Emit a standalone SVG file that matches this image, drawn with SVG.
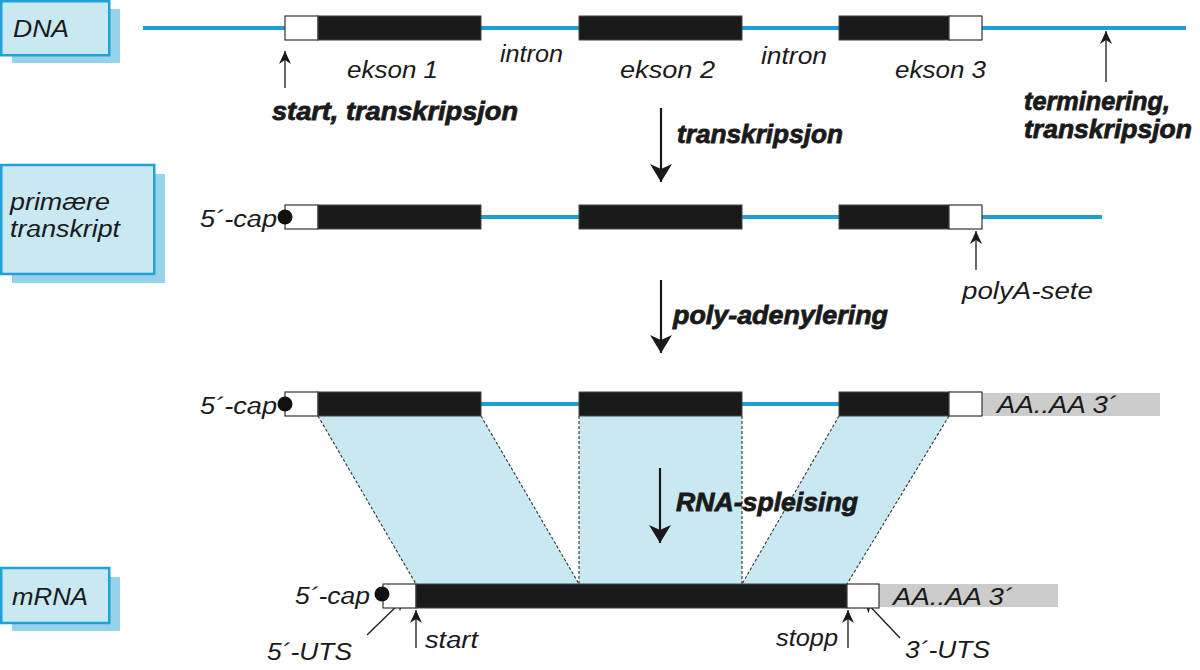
<svg xmlns="http://www.w3.org/2000/svg" width="1200" height="670" viewBox="0 0 1200 670">
<defs>
<style>
.lbl{font-family:"Liberation Sans",Arial,sans-serif;font-style:italic;font-size:23px;fill:#1a1a1a}
.bld{font-family:"Liberation Sans",Arial,sans-serif;font-style:italic;font-weight:bold;font-size:26px;fill:#1a1a1a;stroke:#1a1a1a;stroke-width:0.8}
.box{fill:#c8e8f2;stroke:#1ea2d8;stroke-width:2.5}
.shadow{fill:#96d2ea}
.blue{stroke:#1a9fd6;stroke-width:4;fill:none}
.ex{fill:#1b1a1a;stroke:#444;stroke-width:1}
.utr{fill:#fff;stroke:#333;stroke-width:1.2}
.gray{fill:#cccccc}
.dash{stroke:#333;stroke-width:1.1;stroke-dasharray:3 2;fill:none}
.splice{fill:#c8e8f2}
.thin{stroke:#1a1a1a;stroke-width:1.3;fill:none}
.thick{stroke:#1a1a1a;stroke-width:2.2;fill:none}
</style>
<marker id="ah" markerUnits="userSpaceOnUse" viewBox="0 0 13 12" refX="13" refY="6" markerWidth="13" markerHeight="12" orient="auto">
<path d="M13,6 L0,0 L4,6 L0,12 Z" fill="#1a1a1a"/>
</marker>
<marker id="ahb" markerUnits="userSpaceOnUse" viewBox="0 0 18 22" refX="18" refY="11" markerWidth="18" markerHeight="22" orient="auto">
<path d="M18,11 L0,0 L5,11 L0,22 Z" fill="#1a1a1a"/>
</marker>
</defs>
<rect width="1200" height="670" fill="#fff"/>

<g id="label-dna">
<rect class="shadow" x="12" y="9" width="108" height="54"/>
<rect class="box" x="1.25" y="1.25" width="108" height="54"/>
<text class="lbl" x="13" y="37" font-size="25" textLength="56" lengthAdjust="spacingAndGlyphs">DNA</text>
</g>
<g id="label-primary">
<rect class="shadow" x="12" y="174" width="153" height="109"/>
<rect class="box" x="1.25" y="165" width="153" height="109"/>
<text class="lbl" x="10" y="210" font-size="24" textLength="100" lengthAdjust="spacingAndGlyphs">primære</text>
<text class="lbl" x="10" y="237" font-size="24" textLength="110" lengthAdjust="spacingAndGlyphs">transkript</text>
</g>
<g id="label-mrna">
<rect class="shadow" x="12" y="577" width="108" height="54"/>
<rect class="box" x="1.25" y="568" width="108" height="55"/>
<text class="lbl" x="12" y="605" font-size="25" textLength="76" lengthAdjust="spacingAndGlyphs">mRNA</text>
</g>

<g id="splice-regions">
<polygon class="splice" points="318,416 481,416 579,584 416,584"/>
<polygon class="splice" points="579,416 742,416 742,584 579,584"/>
<polygon class="splice" points="839,416 949,416 847,584 742,584"/>
</g>

<g id="connectors">
<line class="dash" x1="318" y1="416" x2="416" y2="584"/>
<line class="dash" x1="481" y1="416" x2="579" y2="584"/>
<line class="dash" x1="579" y1="416" x2="579" y2="584"/>
<line class="dash" x1="742" y1="416" x2="742" y2="584"/>
<line class="dash" x1="839" y1="416" x2="742" y2="584"/>
<line class="dash" x1="949" y1="416" x2="847" y2="584"/>
<line class="thick" x1="661" y1="108" x2="661" y2="182" marker-end="url(#ahb)"/>
<line class="thick" x1="661" y1="280" x2="661" y2="353" marker-end="url(#ahb)"/>
<line class="thick" x1="660" y1="468" x2="660" y2="543" marker-end="url(#ahb)"/>
<line class="thin" x1="285" y1="88" x2="285" y2="51" marker-end="url(#ah)"/>
<line class="thin" x1="1106" y1="82" x2="1106" y2="31" marker-end="url(#ah)"/>
<line class="thin" x1="976" y1="270" x2="976" y2="231" marker-end="url(#ah)"/>
<line class="thin" x1="367" y1="635" x2="405" y2="598" marker-end="url(#ah)"/>
<line class="thin" x1="416" y1="648" x2="416" y2="610" marker-end="url(#ah)"/>
<line class="thin" x1="848" y1="648" x2="848" y2="610" marker-end="url(#ah)"/>
<line class="thin" x1="900" y1="638" x2="864" y2="600" marker-end="url(#ah)"/>
</g>

<g id="dna">
<line class="blue" x1="143" y1="28" x2="1186" y2="28"/>
<rect class="utr" x="285" y="16" width="33" height="24"/>
<rect class="ex" x="318" y="16" width="163" height="24"/>
<rect class="ex" x="579" y="16" width="163" height="24"/>
<rect class="ex" x="839" y="16" width="110" height="24"/>
<rect class="utr" x="949" y="16" width="33" height="24"/>
<text class="lbl" x="347" y="78" textLength="91" lengthAdjust="spacingAndGlyphs">ekson 1</text>
<text class="lbl" x="500" y="62" textLength="63" lengthAdjust="spacingAndGlyphs">intron</text>
<text class="lbl" x="620" y="78" textLength="95" lengthAdjust="spacingAndGlyphs">ekson 2</text>
<text class="lbl" x="761" y="64" textLength="66" lengthAdjust="spacingAndGlyphs">intron</text>
<text class="lbl" x="895" y="78" textLength="91" lengthAdjust="spacingAndGlyphs">ekson 3</text>
<text class="bld" x="272" y="120" textLength="246" lengthAdjust="spacingAndGlyphs">start, transkripsjon</text>
<text class="bld" x="1024" y="110" font-size="23" textLength="146" lengthAdjust="spacingAndGlyphs">terminering,</text>
<text class="bld" x="1024" y="138" font-size="23" textLength="168" lengthAdjust="spacingAndGlyphs">transkripsjon</text>
</g>

<g id="step-transkripsjon">
<text class="bld" x="677" y="143" textLength="166" lengthAdjust="spacingAndGlyphs">transkripsjon</text>
</g>

<g id="primary-transcript">
<line class="blue" x1="481" y1="217" x2="579" y2="217"/>
<line class="blue" x1="742" y1="217" x2="839" y2="217"/>
<line class="blue" x1="982" y1="217" x2="1102" y2="217"/>
<rect class="utr" x="285" y="205" width="33" height="24"/>
<rect class="ex" x="318" y="205" width="163" height="24"/>
<rect class="ex" x="579" y="205" width="163" height="24"/>
<rect class="ex" x="839" y="205" width="110" height="24"/>
<rect class="utr" x="949" y="205" width="33" height="24"/>
<circle cx="285" cy="217" r="7.5" fill="#111"/>
<text class="lbl" x="200" y="227" textLength="77" lengthAdjust="spacingAndGlyphs">5´-cap</text>
<text class="lbl" x="962" y="299" textLength="131" lengthAdjust="spacingAndGlyphs">polyA-sete</text>
</g>

<g id="step-polyadenylering">
<text class="bld" x="673" y="324" textLength="215" lengthAdjust="spacingAndGlyphs">poly-adenylering</text>
</g>

<g id="polyadenylated">
<line class="blue" x1="481" y1="404" x2="579" y2="404"/>
<line class="blue" x1="742" y1="404" x2="839" y2="404"/>
<rect class="gray" x="982" y="393" width="178" height="23"/>
<rect class="utr" x="285" y="392" width="33" height="24"/>
<rect class="ex" x="318" y="392" width="163" height="24"/>
<rect class="ex" x="579" y="392" width="163" height="24"/>
<rect class="ex" x="839" y="392" width="110" height="24"/>
<rect class="utr" x="949" y="392" width="33" height="24"/>
<circle cx="285" cy="404" r="7.5" fill="#111"/>
<text class="lbl" x="200" y="414" textLength="77" lengthAdjust="spacingAndGlyphs">5´-cap</text>
<text class="lbl" x="997" y="413" textLength="120" lengthAdjust="spacingAndGlyphs">AA..AA 3´</text>
</g>

<g id="step-spleising">
<text class="bld" x="676" y="511" textLength="182" lengthAdjust="spacingAndGlyphs">RNA-spleising</text>
</g>

<g id="mrna">
<rect class="gray" x="879" y="584" width="179" height="23"/>
<rect class="utr" x="383" y="584" width="33" height="24"/>
<rect class="ex" x="416" y="584" width="431" height="24"/>
<rect class="utr" x="847" y="584" width="32" height="24"/>
<circle cx="382" cy="594" r="7.5" fill="#111"/>
<text class="lbl" x="295" y="604" textLength="75" lengthAdjust="spacingAndGlyphs">5´-cap</text>
<text class="lbl" x="893" y="605" textLength="120" lengthAdjust="spacingAndGlyphs">AA..AA 3´</text>
<text class="lbl" x="267" y="660" textLength="85" lengthAdjust="spacingAndGlyphs">5´-UTS</text>
<text class="lbl" x="425" y="648" textLength="53" lengthAdjust="spacingAndGlyphs">start</text>
<text class="lbl" x="776" y="646" textLength="62" lengthAdjust="spacingAndGlyphs">stopp</text>
<text class="lbl" x="905" y="658" textLength="85" lengthAdjust="spacingAndGlyphs">3´-UTS</text>
</g>
</svg>
